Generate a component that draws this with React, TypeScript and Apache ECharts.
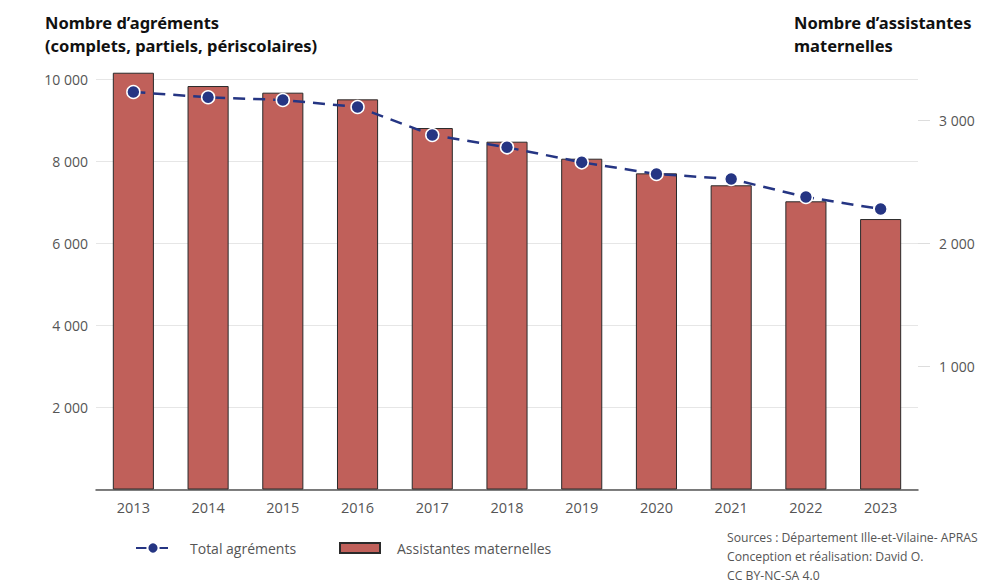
import React, { useEffect, useRef } from "react";
import * as echarts from "echarts";

const years = ["2013", "2014", "2015", "2016", "2017", "2018", "2019", "2020", "2021", "2022", "2023"];
const totalAgrements = [9695, 9566, 9500, 9329, 8646, 8346, 7980, 7695, 7573, 7134, 6841];
const assistantes = [3384, 3276, 3222, 3168, 2935, 2824, 2686, 2567, 2470, 2340, 2196];
const leftTicks = [2000, 4000, 6000, 8000, 10000];
const rightTicks = [1000, 2000, 3000];
const sourceLines = [
  "Sources : Département Ille-et-Vilaine- APRAS",
  "Conception et réalisation: David O.",
  "CC BY-NC-SA 4.0",
];

const fmt = (v: number) => String(v).replace(/\B(?=(\d{3})+(?!\d))/g, " ");

export default function App() {
  const ref = useRef<HTMLDivElement>(null);
  useEffect(() => {
    if (!ref.current) return;
    document.body.style.margin = "0";
    const chart = echarts.init(ref.current, undefined, { renderer: "svg" });
    const labelFont = { fontFamily: "Open Sans", fontSize: 14, color: "#555" };
    chart.setOption({
      animation: false,
      backgroundColor: "#fff",
      textStyle: { fontFamily: "Open Sans" },
      grid: { left: 96, right: 82, top: 79.5, bottom: 94.5, containLabel: false },
      xAxis: {
        type: "category",
        data: years,
        axisLine: { lineStyle: { color: "#555", width: 1.5 } },
        axisTick: { show: false },
        axisLabel: { ...labelFont, fontSize: 14.5, margin: 10 },
      },
      yAxis: [
        {
          type: "value",
          min: 0,
          max: 10000,
          interval: 2000,
          axisLine: { show: false },
          axisTick: { show: false },
          splitLine: { lineStyle: { color: "#e6e6e6", width: 1 } },
          axisLabel: {
            ...labelFont,
            margin: 8,
            showMinLabel: false,
            formatter: (v: number) => (leftTicks.includes(v) ? fmt(v) : ""),
          },
        },
        {
          type: "value",
          min: 0,
          max: 3329,
          interval: 1000,
          position: "right",
          axisLine: { show: false },
          axisTick: {
            show: true,
            length: 12,
            lineStyle: { color: "#ddd" },
            customValues: rightTicks,
          },
          splitLine: { show: false },
          axisLabel: {
            ...labelFont,
            margin: 21,
            customValues: rightTicks,
            formatter: (v: number) => (rightTicks.includes(v) ? fmt(v) : ""),
          },
        },
      ],
      legend: [
        {
          data: ["Total agréments"],
          left: 135,
          top: 541,
          padding: 0,
          itemWidth: 34,
          itemHeight: 14,
          textStyle: { fontFamily: "Open Sans", fontSize: 14, color: "#555", padding: [0, 0, 0, 15] },
        },
        {
          data: [{ name: "Assistantes maternelles", icon: "rect" }],
          left: 339,
          top: 541,
          padding: 0,
          itemWidth: 40,
          itemHeight: 10,
          textStyle: { fontFamily: "Open Sans", fontSize: 14, color: "#555", padding: [0, 0, 0, 12] },
        },
      ],
      graphic: [
        {
          type: "text",
          left: 45,
          top: 11,
          style: {
            text: "Nombre d\u2019agréments\n(complets, partiels, périscolaires)",
            fontFamily: "Noto Sans",
            fontWeight: "bold",
            fontSize: 16.5,
            lineHeight: 23,
            fill: "#111",
          },
        },
        {
          type: "text",
          left: 794,
          top: 11,
          style: {
            text: "Nombre d\u2019assistantes\nmaternelles",
            fontFamily: "Noto Sans",
            fontWeight: "bold",
            fontSize: 16.5,
            lineHeight: 23,
            fill: "#111",
          },
        },
        {
          type: "text",
          left: 727,
          top: 528,
          style: {
            text: sourceLines.join("\n"),
            fontFamily: "Open Sans",
            fontSize: 12.2,
            lineHeight: 19,
            fill: "#555",
          },
        },
      ],
      series: [
        {
          name: "Assistantes maternelles",
          type: "bar",
          yAxisIndex: 1,
          data: assistantes,
          barWidth: "55%",
          clip: false,
          itemStyle: { color: "#c0605a", borderColor: "#2a2a2a", borderWidth: 1 },
          z: 1,
        },
        {
          name: "Total agréments",
          type: "line",
          yAxisIndex: 0,
          data: totalAgrements,
          symbol: "circle",
          symbolSize: 13,
          lineStyle: { color: "#253583", width: 2.5, type: [12, 8] },
          itemStyle: { color: "#253583", borderColor: "#fff", borderWidth: 1.5 },
          z: 3,
        },
      ],
    });
    return () => chart.dispose();
  }, []);
  return <div ref={ref} style={{ width: 1000, height: 584 }} />;
}
